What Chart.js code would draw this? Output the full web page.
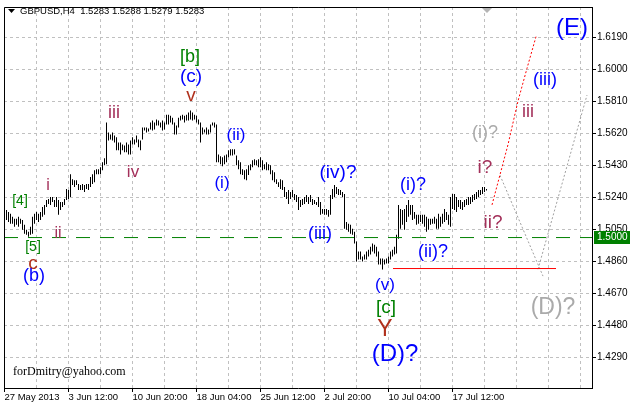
<!DOCTYPE html>
<html>
<head>
<meta charset="utf-8">
<script src="https://cdn.jsdelivr.net/npm/chart.js@4.4.0/dist/chart.umd.min.js"></script>
<style>
  html, body { margin: 0; padding: 0; background: #fff; }
  canvas { display: block; }
</style>
</head>
<body>
<canvas id="grafico" width="632" height="405"></canvas>
<script>
// GBPUSD H4, una barra por indice (0 = primera barra visible)
const highs = [
  1.5164, 1.5152, 1.5141, 1.5123, 1.5111, 1.5111, 1.5123, 1.5111, 1.5105, 1.5076,
  1.5046, 1.5035, 1.5064, 1.5123, 1.5141, 1.5152, 1.5141, 1.5152, 1.5182, 1.5194,
  1.5223, 1.5229, 1.5241, 1.5241, 1.5223, 1.5241, 1.5223, 1.5211, 1.5211, 1.5229,
  1.5288, 1.5282, 1.5376, 1.5347, 1.5341, 1.5341, 1.5318, 1.5312, 1.5318, 1.5312,
  1.5318, 1.5318, 1.5359, 1.5376, 1.5400, 1.5406, 1.5406, 1.5418, 1.5447, 1.5471,
  1.5683, 1.5624, 1.5612, 1.5624, 1.5606, 1.5595, 1.5565, 1.5565, 1.5553, 1.5547,
  1.5565, 1.5553, 1.5577, 1.5595, 1.5583, 1.5606, 1.5583, 1.5577, 1.5654, 1.5654,
  1.5654, 1.5648, 1.5683, 1.5695, 1.5683, 1.5701, 1.5695, 1.5683, 1.5695, 1.5683,
  1.5730, 1.5730, 1.5724, 1.5712, 1.5683, 1.5665, 1.5712, 1.5724, 1.5730, 1.5724,
  1.5730, 1.5742, 1.5754, 1.5742, 1.5730, 1.5724, 1.5701, 1.5683, 1.5654, 1.5642,
  1.5654, 1.5642, 1.5671, 1.5683, 1.5683, 1.5671, 1.5494, 1.5483, 1.5477, 1.5488,
  1.5494, 1.5518, 1.5524, 1.5524, 1.5524, 1.5488, 1.5459, 1.5447, 1.5406, 1.5400,
  1.5406, 1.5430, 1.5435, 1.5459, 1.5465, 1.5459, 1.5465, 1.5477, 1.5459, 1.5435,
  1.5447, 1.5435, 1.5430, 1.5400, 1.5388, 1.5347, 1.5329, 1.5347, 1.5341, 1.5300,
  1.5270, 1.5282, 1.5270, 1.5282, 1.5259, 1.5253, 1.5241, 1.5223, 1.5229, 1.5241,
  1.5253, 1.5241, 1.5253, 1.5229, 1.5223, 1.5211, 1.5241, 1.5211, 1.5170, 1.5170,
  1.5170, 1.5164, 1.5253, 1.5288, 1.5312, 1.5300, 1.5288, 1.5282, 1.5270, 1.5259,
  1.5093, 1.5082, 1.5076, 1.5052, 1.5035, 1.4976, 1.4917, 1.4917, 1.4887, 1.4899,
  1.4917, 1.4928, 1.4946, 1.4964, 1.4958, 1.4946, 1.4917, 1.4875, 1.4875, 1.4870,
  1.4875, 1.4887, 1.4917, 1.4928, 1.4946, 1.5017, 1.5194, 1.5170, 1.5164, 1.5170,
  1.5194, 1.5223, 1.5194, 1.5194, 1.5152, 1.5135, 1.5135, 1.5135, 1.5135, 1.5135,
  1.5123, 1.5111, 1.5111, 1.5111, 1.5123, 1.5111, 1.5141, 1.5123, 1.5141, 1.5170,
  1.5152, 1.5135, 1.5241, 1.5259, 1.5259, 1.5241, 1.5223, 1.5223, 1.5211, 1.5223,
  1.5229, 1.5241, 1.5241, 1.5253, 1.5259, 1.5270, 1.5282, 1.5282, 1.5300, 1.5300,
  1.5288
];
const lows = [
  1.5105, 1.5093, 1.5082, 1.5082, 1.5064, 1.5076, 1.5064, 1.5082, 1.5046, 1.5023,
  1.5017, 1.5005, 1.5017, 1.5023, 1.5082, 1.5105, 1.5093, 1.5105, 1.5123, 1.5135,
  1.5182, 1.5200, 1.5194, 1.5211, 1.5182, 1.5182, 1.5135, 1.5164, 1.5182, 1.5194,
  1.5223, 1.5229, 1.5241, 1.5312, 1.5300, 1.5312, 1.5282, 1.5282, 1.5282, 1.5270,
  1.5288, 1.5282, 1.5300, 1.5318, 1.5329, 1.5376, 1.5376, 1.5376, 1.5400, 1.5430,
  1.5435, 1.5577, 1.5583, 1.5577, 1.5565, 1.5518, 1.5518, 1.5494, 1.5518, 1.5506,
  1.5506, 1.5494, 1.5494, 1.5553, 1.5553, 1.5565, 1.5536, 1.5518, 1.5583, 1.5636,
  1.5624, 1.5630, 1.5642, 1.5636, 1.5642, 1.5665, 1.5665, 1.5654, 1.5636, 1.5642,
  1.5671, 1.5671, 1.5683, 1.5671, 1.5612, 1.5612, 1.5654, 1.5695, 1.5701, 1.5683,
  1.5695, 1.5695, 1.5701, 1.5695, 1.5701, 1.5683, 1.5671, 1.5565, 1.5612, 1.5624,
  1.5612, 1.5612, 1.5624, 1.5665, 1.5654, 1.5447, 1.5447, 1.5435, 1.5424, 1.5435,
  1.5447, 1.5477, 1.5488, 1.5488, 1.5494, 1.5430, 1.5406, 1.5376, 1.5371, 1.5347,
  1.5341, 1.5371, 1.5400, 1.5418, 1.5430, 1.5430, 1.5418, 1.5418, 1.5400, 1.5406,
  1.5400, 1.5400, 1.5376, 1.5341, 1.5329, 1.5318, 1.5300, 1.5288, 1.5282, 1.5241,
  1.5229, 1.5200, 1.5229, 1.5241, 1.5223, 1.5211, 1.5164, 1.5182, 1.5194, 1.5200,
  1.5211, 1.5200, 1.5211, 1.5194, 1.5200, 1.5194, 1.5182, 1.5135, 1.5141, 1.5135,
  1.5135, 1.5123, 1.5135, 1.5229, 1.5241, 1.5259, 1.5253, 1.5253, 1.5241, 1.5052,
  1.5046, 1.5035, 1.5023, 1.5017, 1.4964, 1.4858, 1.4870, 1.4870, 1.4858, 1.4870,
  1.4870, 1.4887, 1.4899, 1.4917, 1.4905, 1.4887, 1.4840, 1.4840, 1.4811, 1.4840,
  1.4846, 1.4846, 1.4870, 1.4887, 1.4899, 1.4905, 1.4993, 1.5052, 1.5076, 1.5046,
  1.5093, 1.5123, 1.5135, 1.5105, 1.5111, 1.5076, 1.5082, 1.5093, 1.5082, 1.5064,
  1.5035, 1.5046, 1.5076, 1.5082, 1.5082, 1.5052, 1.5052, 1.5064, 1.5082, 1.5093,
  1.5105, 1.5076, 1.5064, 1.5170, 1.5164, 1.5152, 1.5182, 1.5170, 1.5164, 1.5182,
  1.5194, 1.5194, 1.5200, 1.5211, 1.5223, 1.5229, 1.5241, 1.5253, 1.5259, 1.5270,
  1.5279
];

const priceTicks = [1.4290, 1.4480, 1.4670, 1.4860, 1.5050, 1.5240, 1.5430, 1.5620, 1.5810, 1.6000, 1.6190];
const gridIdx = [-1, 15, 31, 47, 63, 79, 95, 111, 127, 143, 159, 175, 191, 207, 223, 239, 255, 271, 287];
const timeIdx = [-1, 31, 63, 95, 127, 159, 191, 223];
const timeLabels = ['27 May 2013', '3 Jun 12:00', '10 Jun 20:00', '18 Jun 04:00', '25 Jun 12:00', '2 Jul 20:00', '10 Jul 04:00', '17 Jul 12:00'];
const encabezado = ['GBPUSD,H4', 1.5283, 1.5288, 1.5279, 1.5283];

// objetos dibujados en el grafico
const nivel = 1.5000;
const soporte = [[193.25, 1.4816], [274.75, 1.4816]];
const proyeccionRoja = [[242.75, 1.5194], [250.75, 1.5552], [255.75, 1.5811], [260.25, 1.6005], [264.75, 1.6193]];
const bajadaGris = [[246.75, 1.5370], [268.25, 1.4771]];
const subidaGris = [[265.75, 1.4812], [290.25, 1.5846]];

const colores = {
  azul: '#0000ff',
  verde: '#008000',
  marron: '#a3305a',
  rojo: '#b0301c',
  gris: '#aaaaaa'
};

// texto, indice, precio, color, tamano
const etiquetas = [
  ['[4]', 6.75, 1.5217, 'verde', 14],
  ['[5]', 13.25, 1.4941, 'verde', 14],
  ['c', 13.25, 1.4847, 'rojo', 19],
  ['(b)', 13.75, 1.4771, 'azul', 18],
  ['i', 20.75, 1.5311, 'marron', 16],
  ['ii', 25.75, 1.5023, 'marron', 16],
  ['iii', 53.75, 1.5740, 'marron', 18],
  ['iv', 63.25, 1.5388, 'marron', 17],
  ['v', 92.25, 1.5840, 'rojo', 19],
  ['(c)', 92.25, 1.5952, 'azul', 19],
  ['[b]', 91.75, 1.6075, 'verde', 18],
  ['(i)', 107.75, 1.5323, 'azul', 17],
  ['(ii)', 114.75, 1.5605, 'azul', 17],
  ['(iii)', 156.75, 1.5023, 'azul', 18],
  ['(iv)?', 165.75, 1.5382, 'azul', 19],
  ['(v)', 189.25, 1.4718, 'azul', 17],
  ['[c]', 189.75, 1.4583, 'verde', 19],
  ['Y', 189.25, 1.4453, 'rojo', 23],
  ['(D)?', 194.25, 1.4306, 'azul', 24],
  ['(i)?', 203.25, 1.5311, 'azul', 18],
  ['(ii)?', 213.25, 1.4912, 'azul', 18],
  ['i?', 239.25, 1.5417, 'marron', 19],
  ['ii?', 243.25, 1.5088, 'marron', 19],
  ['(i)?', 239.25, 1.5623, 'gris', 18],
  ['iii', 260.75, 1.5746, 'marron', 18],
  ['(iii)', 269.25, 1.5934, 'azul', 18],
  ['(E)', 282.75, 1.6240, 'azul', 24],
  ['(D)?', 273.25, 1.4583, 'gris', 23]
];

const aPuntos = arr => arr.map(([x, y]) => ({ x, y }));

function linea(datos, color, dash) {
  return {
    type: 'line',
    data: aPuntos(datos),
    borderColor: color,
    borderWidth: 1,
    borderDash: dash,
    pointRadius: 0,
    tension: 0,
    fill: false,
    order: 0
  };
}

const marco = {
  id: 'marco',
  afterDraw(chart) {
    const { ctx, chartArea: a, scales: { x, y } } = chart;
    ctx.save();
    ctx.strokeStyle = '#000';
    ctx.lineWidth = 1;
    ctx.beginPath();
    ctx.moveTo(a.left + 0.5, a.bottom);
    ctx.lineTo(a.left + 0.5, a.top + 0.5);
    ctx.lineTo(a.right, a.top + 0.5);
    ctx.stroke();

    // encabezado
    ctx.fillStyle = '#000';
    ctx.beginPath();
    ctx.moveTo(8, 9);
    ctx.lineTo(15, 9);
    ctx.lineTo(11.5, 13);
    ctx.closePath();
    ctx.fill();
    ctx.font = '9.5px "Liberation Sans"';
    ctx.textBaseline = 'middle';
    ctx.textAlign = 'left';
    const [simbolo, ...ohlc] = encabezado;
    ctx.fillText(simbolo + '  ' + ohlc.map(v => v.toFixed(4)).join(' '), 20, 11);

    ctx.font = '12px "Liberation Serif"';
    ctx.textBaseline = 'alphabetic';
    ctx.fillText('forDmitry@yahoo.com', 13, 375);

    // marca de desplazamiento
    const xs = x.getPixelForValue(240.25);
    ctx.fillStyle = '#b4b4b4';
    ctx.beginPath();
    ctx.moveTo(xs - 5, a.top + 1);
    ctx.lineTo(xs + 5, a.top + 1);
    ctx.lineTo(xs, a.top + 6);
    ctx.closePath();
    ctx.fill();

    // etiqueta del nivel
    const yn = y.getPixelForValue(nivel);
    ctx.fillStyle = '#008000';
    ctx.fillRect(a.right + 2, Math.round(yn) - 7, 36, 13);
    ctx.fillStyle = '#fff';
    ctx.font = '10px "Liberation Sans"';
    ctx.textBaseline = 'middle';
    ctx.fillText(nivel.toFixed(4), a.right + 5, Math.round(yn) - 0.5);
    ctx.restore();
  }
};

const ondas = {
  id: 'ondas',
  afterDatasetsDraw(chart) {
    const { ctx, scales: { x, y } } = chart;
    ctx.save();
    ctx.textAlign = 'center';
    ctx.textBaseline = 'middle';
    etiquetas.forEach(([texto, i, p, color, size]) => {
      ctx.font = size + 'px "Liberation Sans"';
      ctx.fillStyle = colores[color];
      ctx.fillText(texto, x.getPixelForValue(i), y.getPixelForValue(p));
    });
    ctx.restore();
  }
};

const fuenteEje = { family: 'Liberation Sans', size: 10 };

new Chart(document.getElementById('grafico'), {
  type: 'bar',
  data: {
    datasets: [
      linea([[-1.25, nivel], [292.75, nivel]], '#008000', [14, 10]),
      linea(soporte, '#ff0000', []),
      linea(proyeccionRoja, '#ff0000', [2, 2]),
      linea(bajadaGris, '#a0a0a0', [2, 2]),
      linea(subidaGris, '#a0a0a0', [2, 2]),
      {
        type: 'bar',
        data: highs.map((h, i) => ({ x: i, y: [lows[i], h] })),
        backgroundColor: '#000',
        borderWidth: 0,
        borderSkipped: false,
        barThickness: 1,
        inflateAmount: 0,
        order: 1
      }
    ]
  },
  options: {
    responsive: false,
    animation: false,
    devicePixelRatio: 1,
    layout: { padding: { left: 4, top: 3, right: 0, bottom: 0 } },
    plugins: { legend: { display: false }, tooltip: { enabled: false } },
    scales: {
      x: {
        type: 'linear',
        min: -1.25,
        max: 292.75,
        offset: false,
        bounds: 'data',
        afterFit: s => { s.height = 17; },
        afterBuildTicks: s => { s.ticks = gridIdx.map(v => ({ value: v })); },
        grid: {
          color: '#c0c0c0',
          offset: false,
          tickLength: 4,
          tickColor: c => (c.tick && timeIdx.includes(c.tick.value)) ? '#000' : 'rgba(0,0,0,0)'
        },
        border: { display: true, color: '#000', width: 1, dash: [3, 3] },
        ticks: {
          autoSkip: false,
          maxRotation: 0,
          minRotation: 0,
          align: 'start',
          padding: 0,
          color: '#000',
          font: { family: 'Liberation Sans', size: 9.5 },
          callback: v => {
            const k = timeIdx.indexOf(v);
            return k >= 0 ? timeLabels[k] : '';
          }
        }
      },
      y: {
        position: 'right',
        min: 1.41066,
        max: 1.63692,
        bounds: 'data',
        afterFit: s => { s.width = 40; },
        afterBuildTicks: s => { s.ticks = priceTicks.map(v => ({ value: v })); },
        grid: { color: '#c0c0c0', tickLength: 4, tickColor: '#000' },
        border: { display: true, color: '#000', width: 1, dash: [3, 3] },
        ticks: {
          padding: 1,
          color: '#000',
          font: fuenteEje,
          callback: v => v.toFixed(4)
        }
      }
    }
  },
  plugins: [marco, ondas]
});
</script>
</body>
</html>
